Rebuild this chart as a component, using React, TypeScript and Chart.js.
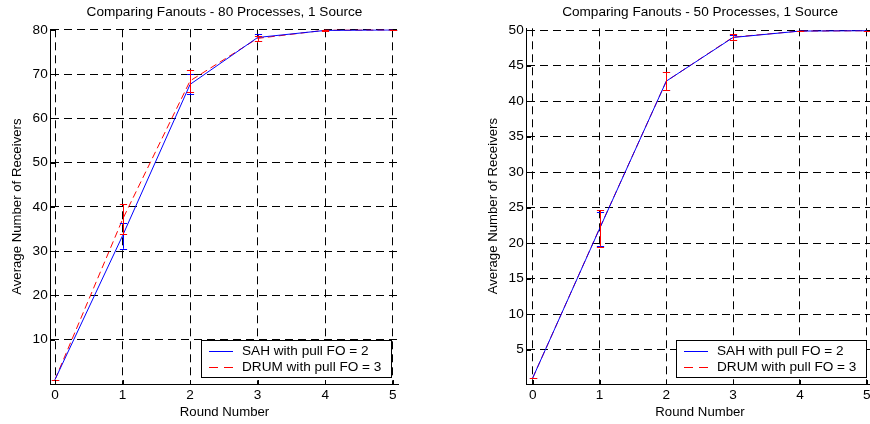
import React, { useEffect, useRef } from 'react';
import { Chart, registerables } from 'chart.js';

Chart.register(...registerables);

// ---------------- data ----------------
const rounds = [0, 1, 2, 3, 4, 5];

const sah80 = [1, 33.5, 67.7, 78.3, 79.9, 80];
const sah80Err = [0, 2.95, 2.25, 0.8, 0.1, 0];
const drum80 = [1, 37.2, 68.5, 78.1, 79.95, 80];
const drum80Err = [0, 3.4, 2.45, 0.6, 0.1, 0];

const sah50 = [1, 22.0, 42.8, 48.95, 49.85, 49.9];
const sah50Err = [0, 2.4, 1.3, 0.35, 0.05, 0];
const drum50 = [1, 22.05, 42.8, 49.0, 49.85, 49.9];
const drum50Err = [0, 2.55, 1.3, 0.4, 0.05, 0];

const xTicks = [0, 1, 2, 3, 4, 5];
const yTicks80 = [10, 20, 30, 40, 50, 60, 70, 80];
const yTicks50 = [5, 10, 15, 20, 25, 30, 35, 40, 45, 50];

const title80 = 'Comparing Fanouts - 80 Processes, 1 Source';
const title50 = 'Comparing Fanouts - 50 Processes, 1 Source';
const seriesLabels = ['SAH with pull FO = 2', 'DRUM with pull FO = 3'];
const xAxisTitle = 'Round Number';
const yAxisTitle = 'Average Number of Receivers';

// ---------------- styles ----------------
const FONT = '"Liberation Sans", Arial, Helvetica, sans-serif';
const FS = 13.6;
const FS_AXIS = 13.2;
const BLUE = '#0000ff';
const RED = '#ff0000';

const titlePlugin = (text: string) => ({
  id: 'panelTitle',
  afterDraw(chart: any) {
    const { ctx, chartArea } = chart;
    ctx.save();
    ctx.font = `${FS}px ${FONT}`;
    ctx.fillStyle = '#000';
    ctx.textAlign = 'center';
    ctx.textBaseline = 'middle';
    ctx.fillText(text, (chartArea.left + chartArea.right) / 2, 12.5);
    ctx.restore();
  },
});

const errorBarPlugin = {
  id: 'errorBars',
  afterDatasetsDraw(chart: any) {
    const { ctx } = chart;
    const xs = chart.scales.x;
    const ys = chart.scales.y;
    chart.data.datasets.forEach((ds: any) => {
      const errs: number[] = ds.errors || [];
      ctx.save();
      ctx.strokeStyle = ds.borderColor;
      ctx.lineWidth = 1;
      ctx.setLineDash([]);
      ds.data.forEach((pt: any, i: number) => {
        const e = errs[i] || 0;
        const px = Math.round(xs.getPixelForValue(pt.x)) + 0.5;
        const yt = ys.getPixelForValue(pt.y + e);
        const yb = ys.getPixelForValue(pt.y - e);
        ctx.beginPath();
        ctx.moveTo(px, yt);
        ctx.lineTo(px, yb);
        ctx.moveTo(px - 3.6, Math.round(yt) + 0.5);
        ctx.lineTo(px + 3.6, Math.round(yt) + 0.5);
        ctx.moveTo(px - 3.6, Math.round(yb) + 0.5);
        ctx.lineTo(px + 3.6, Math.round(yb) + 0.5);
        ctx.stroke();
      });
      ctx.restore();
    });
  },
};

const innerTickPlugin = {
  id: 'innerTicks',
  afterDraw(chart: any) {
    const { ctx, chartArea } = chart;
    const xs = chart.scales.x;
    const ys = chart.scales.y;
    ctx.save();
    ctx.strokeStyle = '#000';
    ctx.lineWidth = 1;
    ctx.beginPath();
    ys.ticks.forEach((t: any) => {
      const py = Math.round(ys.getPixelForValue(t.value)) + 0.5;
      ctx.moveTo(Math.round(chartArea.left), py);
      ctx.lineTo(Math.round(chartArea.left) + 4, py);
    });
    xs.ticks.forEach((t: any) => {
      const px = Math.round(xs.getPixelForValue(t.value)) + 0.5;
      ctx.moveTo(px, Math.round(chartArea.bottom));
      ctx.lineTo(px, Math.round(chartArea.bottom) - 4);
    });
    ctx.stroke();
    ctx.restore();
  },
};

const legendPlugin = {
  id: 'boxLegend',
  afterDraw(chart: any) {
    const { ctx, chartArea } = chart;
    const dsets = chart.data.datasets;
    ctx.save();
    ctx.font = `${FS}px ${FONT}`;
    const textW = Math.max(...dsets.map((d: any) => ctx.measureText(d.label).width));
    const w = Math.round(41 + textW + 10);
    const h = 37;
    const right = Math.round(chartArea.right - 7.6);
    const bottom = Math.round(chartArea.bottom - 6.7);
    const left = right - w;
    const top = bottom - h;
    ctx.fillStyle = '#fff';
    ctx.fillRect(left, top, w, h);
    ctx.strokeStyle = '#000';
    ctx.lineWidth = 1;
    ctx.strokeRect(left + 0.5, top + 0.5, w, h);
    dsets.forEach((d: any, i: number) => {
      const y = top + 10.5 + i * 16.5;
      ctx.strokeStyle = d.borderColor;
      ctx.setLineDash(d.borderDash ? [9, 6] : []);
      ctx.beginPath();
      ctx.moveTo(left + 8, Math.round(y) + 0.5);
      ctx.lineTo(left + 32, Math.round(y) + 0.5);
      ctx.stroke();
      ctx.setLineDash([]);
      ctx.fillStyle = '#000';
      ctx.textAlign = 'left';
      ctx.textBaseline = 'middle';
      ctx.fillText(d.label, left + 41, y + 0.5);
    });
    ctx.restore();
  },
};

interface PanelProps {
  title: string;
  sah: number[];
  sahErr: number[];
  drum: number[];
  drumErr: number[];
  yTicks: number[];
  xMin: number;
  xMax: number;
  yMin: number;
  yMax: number;
  padLeft: number;
  padRight: number;
  padTop: number;
  canvasLeft: number;
  canvasWidth: number;
}

function Panel(p: PanelProps) {
  const ref = useRef<HTMLCanvasElement>(null);
  useEffect(() => {
    if (!ref.current) return;
    const font = { family: FONT, size: FS };
    const axisFont = { family: FONT, size: FS_AXIS };
    const chart = new Chart(ref.current, {
      type: 'line',
      data: {
        datasets: [
          {
            label: seriesLabels[0],
            data: rounds.map((r, i) => ({ x: r, y: p.sah[i] })),
            errors: p.sahErr,
            borderColor: BLUE,
            backgroundColor: BLUE,
            borderWidth: 1,
            pointRadius: 0,
            tension: 0,
            fill: false,
          } as any,
          {
            label: seriesLabels[1],
            data: rounds.map((r, i) => ({ x: r, y: p.drum[i] })),
            errors: p.drumErr,
            borderColor: RED,
            backgroundColor: RED,
            borderWidth: 1,
            borderDash: [7, 4],
            pointRadius: 0,
            tension: 0,
            fill: false,
          } as any,
        ],
      },
      options: {
        responsive: false,
        animation: false,
        devicePixelRatio: 1,
        events: [],
        layout: { padding: { top: p.padTop, left: p.padLeft, right: p.padRight, bottom: 0 } },
        plugins: {
          legend: { display: false },
          title: { display: false },
          tooltip: { enabled: false },
        },
        scales: {
          x: {
            type: 'linear',
            min: p.xMin,
            max: p.xMax,
            afterBuildTicks: (s: any) => {
              s.ticks = xTicks.map((v) => ({ value: v }));
            },
            afterFit: (s: any) => {
              s.height = 40;
            },
            ticks: { font, color: '#000', padding: 3, maxRotation: 0, autoSkip: false },
            grid: { color: '#000', lineWidth: 1, drawTicks: false },
            border: { display: true, color: '#000', width: 1, dash: [8, 5] },
            title: {
              display: true,
              text: xAxisTitle,
              font: axisFont,
              color: '#000',
              padding: { top: 0, bottom: 3.7 },
            },
          },
          y: {
            type: 'linear',
            min: p.yMin,
            max: p.yMax,
            afterBuildTicks: (s: any) => {
              s.ticks = p.yTicks.map((v) => ({ value: v }));
            },
            afterFit: (s: any) => {
              s.width = 50.7;
            },
            ticks: { font, color: '#000', padding: 3, autoSkip: false },
            grid: { color: '#000', lineWidth: 1, drawTicks: false },
            border: { display: true, color: '#000', width: 1, dash: [8, 5] },
            title: {
              display: true,
              text: yAxisTitle,
              font: axisFont,
              color: '#000',
              padding: { top: 9.4, bottom: 0 },
            },
          },
        },
      } as any,
      plugins: [errorBarPlugin, innerTickPlugin, legendPlugin, titlePlugin(p.title)],
    });
    return () => chart.destroy();
  }, []);
  return (
    <canvas
      ref={ref}
      width={p.canvasWidth}
      height={424}
      style={{ position: 'absolute', left: p.canvasLeft, top: 0 }}
    />
  );
}

export default function App() {
  return (
    <div
      style={{
        position: 'absolute',
        left: 0,
        top: 0,
        width: 870,
        height: 424,
        overflow: 'hidden',
        background: '#fff',
      }}
    >
      <Panel
        title={title80}
        sah={sah80}
        sahErr={sah80Err}
        drum={drum80}
        drumErr={drum80Err}
        yTicks={yTicks80}
        xMin={-0.064}
        xMax={5.083}
        yMin={0}
        yMax={80.15}
        padLeft={0}
        padRight={36.7}
        padTop={29.3}
        canvasLeft={0}
        canvasWidth={435}
      />
      <Panel
        title={title50}
        sah={sah50}
        sahErr={sah50Err}
        drum={drum50}
        drumErr={drum50Err}
        yTicks={yTicks50}
        xMin={-0.09}
        xMax={5.1}
        yMin={0.15}
        yMax={50.24}
        padLeft={41}
        padRight={11.6}
        padTop={28.3}
        canvasLeft={435}
        canvasWidth={450}
      />
    </div>
  );
}
